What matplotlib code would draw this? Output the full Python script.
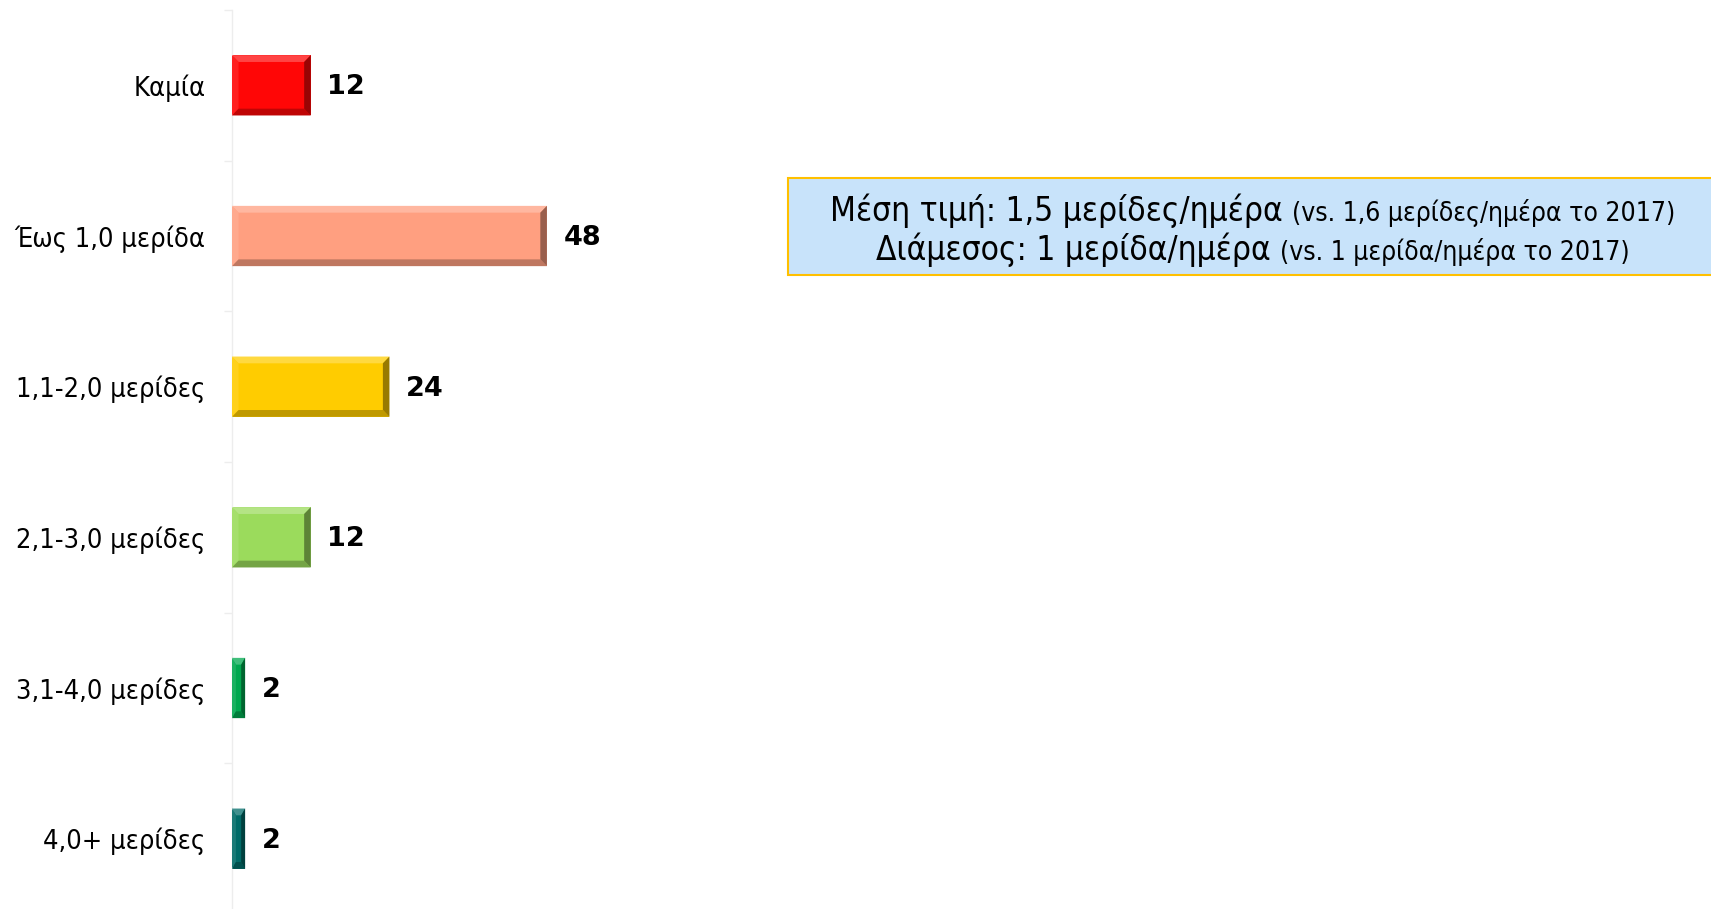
import numpy as np
import matplotlib
matplotlib.use("Agg")
from matplotlib import pyplot as plt
from matplotlib.patches import Polygon, Rectangle
from matplotlib.colors import to_rgb
from matplotlib.offsetbox import TextArea, HPacker, VPacker, AnnotationBbox

categories = ["Καμία", "Έως 1,0 μερίδα", "1,1-2,0 μερίδες", "2,1-3,0 μερίδες",
              "3,1-4,0 μερίδες", "4,0+ μερίδες"]
values = [12, 48, 24, 12, 2, 2]
colors = ["#FF0606", "#FF9F80", "#FFCC00", "#9BDB5C", "#00A84F", "#006B68"]
note_main = ["Μέση τιμή: 1,5 μερίδες/ημέρα ", "Διάμεσος: 1 μερίδα/ημέρα "]
note_small = ["(vs. 1,6 μερίδες/ημέρα το 2017)", "(vs. 1 μερίδα/ημέρα το 2017)"]


def shade(c, f):
    r = np.array(to_rgb(c))
    if f > 0:
        return tuple(r + (1 - r) * f)
    return tuple(r * (1 + f))


fig = plt.figure(figsize=(17.11, 9.09), dpi=100)
ax = fig.add_axes([232 / 1711, -5 / 909, 1 - 232 / 1711, 1 - 10 / 909 + 5 / 909])

y = np.arange(len(categories))
bars = ax.barh(y, values, height=0.4, color=colors, edgecolor="none", zorder=2)

# bevel look of the bars
for b, c in zip(bars, colors):
    x0, y0, w, h = b.get_x(), b.get_y(), b.get_width(), b.get_height()
    x1, y1 = x0 + w, y0 + h
    bx = min(1.0, w * 0.3)
    by = min(0.045, h * 0.3)
    sides = [
        ([(x0, y0), (x1, y0), (x1 - bx, y0 + by), (x0 + bx, y0 + by)], 0.25),
        ([(x0, y0), (x0 + bx, y0 + by), (x0 + bx, y1 - by), (x0, y1)], 0.1),
        ([(x0, y1), (x1, y1), (x1 - bx, y1 - by), (x0 + bx, y1 - by)], -0.25),
        ([(x1, y0), (x1 - bx, y0 + by), (x1 - bx, y1 - by), (x1, y1)], -0.4),
    ]
    for pts, f in sides:
        ax.add_patch(Polygon(pts, closed=True, fc=shade(c, f), ec="none", zorder=3))

for b, v in zip(bars, values):
    ax.annotate(str(v), (b.get_width(), b.get_y() + b.get_height() / 2),
                xytext=(12, -1.5), textcoords="offset points", va="center", ha="left",
                fontsize=19.5, fontweight="bold", family="DejaVu Sans")

ax.set_xlim(0, 1479 / 6.56)
ax.set_ylim(len(categories) - 0.5, -0.5)
ax.set_yticks(y)
ax.set_yticklabels(categories, fontsize=19.5, fontstretch="condensed", family="DejaVu Sans")
ax.set_yticks(np.arange(len(categories) + 1) - 0.5, minor=True)
ax.tick_params(axis="y", which="major", length=0, pad=19)
ax.tick_params(axis="y", which="minor", length=6, color="#EDEDED", width=1)
ax.set_xticks([])
for s in ["top", "right", "bottom"]:
    ax.spines[s].set_visible(False)
ax.spines["left"].set_color("#EDEDED")
ax.spines["left"].set_linewidth(1)

# note box
fig.patches.append(Rectangle((788 / 1711, 1 - 275 / 909), 935 / 1711, 97 / 909,
                             transform=fig.transFigure, fc="#C8E3FA", ec="#FFC000",
                             lw=1.5, zorder=1))
rows = []
for m, s in zip(note_main, note_small):
    rows.append(HPacker(children=[
        TextArea(m, textprops=dict(fontsize=24, family="DejaVu Sans", fontstretch="condensed")),
        TextArea(s, textprops=dict(fontsize=19, family="DejaVu Sans", fontstretch="condensed")),
    ], align="baseline", pad=0, sep=0))
box = VPacker(children=rows, align="center", pad=0, sep=3)
ab = AnnotationBbox(box, (1253 / 1711, 1 - 230 / 909), xycoords="figure fraction",
                    box_alignment=(0.5, 0.5), frameon=False, zorder=2)
fig.add_artist(ab)

fig.savefig("out.png", dpi=100)
